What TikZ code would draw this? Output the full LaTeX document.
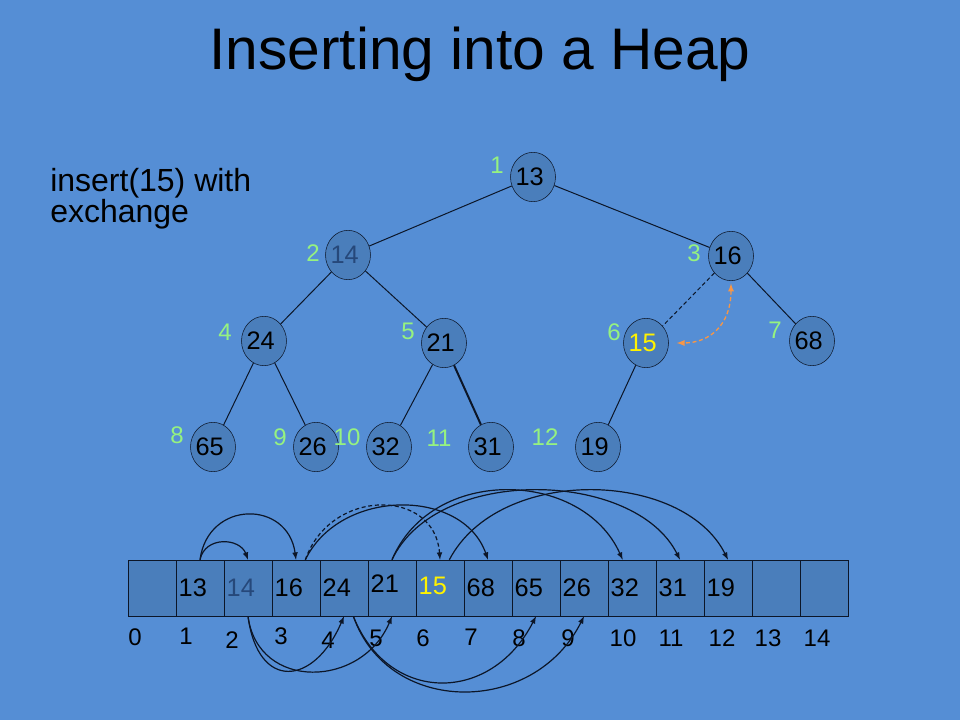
\documentclass[tikz,border=0pt]{standalone}
\usepackage{fontspec}
\setmainfont{Liberation Sans}
\usetikzlibrary{shapes,backgrounds}
\usetikzlibrary{arrows}

\definecolor{slidebg}{RGB}{85,142,213}
\definecolor{nodefill}{RGB}{74,126,187}
\definecolor{idxgreen}{RGB}{150,242,128}
\definecolor{oldblue}{RGB}{38,72,122}
\definecolor{swaporange}{RGB}{247,150,70}
\definecolor{linecol}{RGB}{12,22,40}

\tikzset{
	hnode/.style={ellipse, draw=linecol, fill=nodefill, minimum width=33.75pt, minimum height=37pt, inner sep=-4pt, font=\fontsize{19}{22}\selectfont, execute at end node={\kern5pt}},
	idx/.style={text=idxgreen, inner sep=0pt, font=\fontsize{18}{21}\selectfont},
	cell/.style={rectangle, draw=linecol, fill=nodefill, minimum width=36pt, minimum height=42pt, inner sep=0pt},
	val/.style={anchor=west, inner sep=0pt, font=\fontsize{19}{22}\selectfont},
	slot/.style={inner sep=0pt, font=\fontsize{18}{21}\selectfont},
	edge/.style={draw=linecol, line width=0.75pt},
	link/.style={draw=linecol, line width=0.9pt, -latex},
	swap/.style={draw=swaporange, line width=1pt, dash pattern=on 3pt off 2pt, latex-latex}
}

\begin{document}
\begin{tikzpicture}[x=0.75pt,y=-0.75pt]
	\useasboundingbox (0,0) rectangle (960,720);
	\fill[slidebg] (0,0) rectangle (960,720);

	% title and note
	\node[anchor=base, inner sep=0pt, font=\fontsize{44}{50}\selectfont] (title) at (480,70) {Inserting into a Heap};
	\node[anchor=base west, inner sep=0pt, font=\fontsize{24}{28}\selectfont] (note1) at (50,192) {insert(15) with};
	\node[anchor=base west, inner sep=0pt, font=\fontsize{24}{28}\selectfont] (note2) at (50,223) {exchange};

	% the tree
	\node[hnode] (n13) at (533,177) {13};
	\node[hnode, text=oldblue] (n14) at (348,255) {14};
	\node[hnode] (n16) at (731,256) {16};
	\node[hnode] (n24) at (264,341) {24};
	\node[hnode] (n21) at (444,343) {21};
	\node[hnode, text=yellow] (n15) at (646,343) {15};
	\node[hnode] (n68) at (812,341) {68};
	\node[hnode] (n65) at (213,447) {65};
	\node[hnode] (n26) at (316,447) {26};
	\node[hnode] (n32) at (389,447) {32};
	\node[hnode] (n31) at (491,447) {31};
	\node[hnode] (n19) at (598,447) {19};

	\draw[edge] (n13) -- (n14);
	\draw[edge] (n13) -- (n16);
	\draw[edge] (n14) -- (n24);
	\draw[edge] (n14) -- (n21);
	\draw[edge, dash pattern=on 3pt off 2pt] (n16) -- (n15);
	\draw[edge] (n16) -- (n68);
	\draw[edge] (n24) -- (n65);
	\draw[edge] (n24) -- (n26);
	\draw[edge] (n21) -- (n32);
	\draw[edge, line width=1.5pt] (n21) -- (n31);
	\draw[edge] (n15) -- (n19);
	\draw[swap, shorten <=2pt, shorten >=6pt] (n16.south) .. controls +(0,45) and +(40,0) .. (n15.east);

	% positions in the tree
	\node[idx] (l1) at (497,165) {1};
	\node[idx] (l2) at (313,253) {2};
	\node[idx] (l3) at (694,253) {3};
	\node[idx] (l4) at (225,332) {4};
	\node[idx] (l5) at (408,331) {5};
	\node[idx] (l6) at (614,332) {6};
	\node[idx] (l7) at (775,330) {7};
	\node[idx] (l8) at (177,435) {8};
	\node[idx] (l9) at (280,437) {9};
	\node[idx] (l10) at (347,437) {10};
	\node[idx] (l11) at (439,438) {11};
	\node[idx] (l12) at (545,437) {12};

	% the array
	\foreach \i in {0,...,14}
		\node[cell] (c\i) at (152+48*\i,588) {};
	\foreach \i/\v/\c/\dy in {1/13/black/0pt, 2/14/oldblue/0pt, 3/16/black/0pt, 4/24/black/0pt, 5/21/black/3pt, 6/15/yellow/1.5pt, 7/68/black/0pt, 8/65/black/0pt, 9/26/black/0pt, 10/32/black/0pt, 11/31/black/0pt, 12/19/black/0pt}
		\node[val, text=\c] (v\i) at ([xshift=2pt, yshift=\dy]c\i.west) {\v};
	\foreach \i/\px/\py in {0/135/637, 1/186/636, 2/232/640, 3/281/636, 4/328/640, 5/376/638, 6/423/638, 7/471/637, 8/519/638, 9/568/638, 10/623/638, 11/671/638, 12/722/638, 13/768/638, 14/817/638}
		\node[slot] (i\i) at (\px,\py) {\i};

	% parent to children, above
	\draw[link] (c1.north) .. controls +(5,-24) and +(-8,-22) .. (c2.north);
	\draw[link] (c1.north) .. controls +(8,-60) and +(-8,-60) .. (c3.north);
	\draw[link, dash pattern=on 3pt off 2pt] ([xshift=7pt]c3.north) .. controls +(25,-72) and +(-5,-72) .. (c6.north);
	\draw[link] ([xshift=7pt]c3.north) .. controls +(35,-72) and +(-25,-72) .. (c7.north);
	\draw[link] (c5.north) .. controls +(40,-95) and +(-40,-90) .. ([xshift=-7pt]c10.north);
	\draw[link] (c5.north) .. controls +(45,-95) and +(-45,-90) .. (c11.north);
	\draw[link] ([xshift=7pt]c6.north) .. controls +(50,-95) and +(-45,-90) .. (c12.north);
	% parent to children, below
	\draw[link] (c2.south) .. controls +(10,75) and +(-30,70) .. (c4.south);
	\draw[link] (c2.south) .. controls +(10,75) and +(-30,72) .. (c5.south);
	\draw[link] ([xshift=7pt]c4.south) .. controls +(35,88) and +(-45,88) .. (c8.south);
	\draw[link] ([xshift=7pt]c4.south) .. controls +(35,100) and +(-50,100) .. (c9.south);
\end{tikzpicture}
\end{document}
